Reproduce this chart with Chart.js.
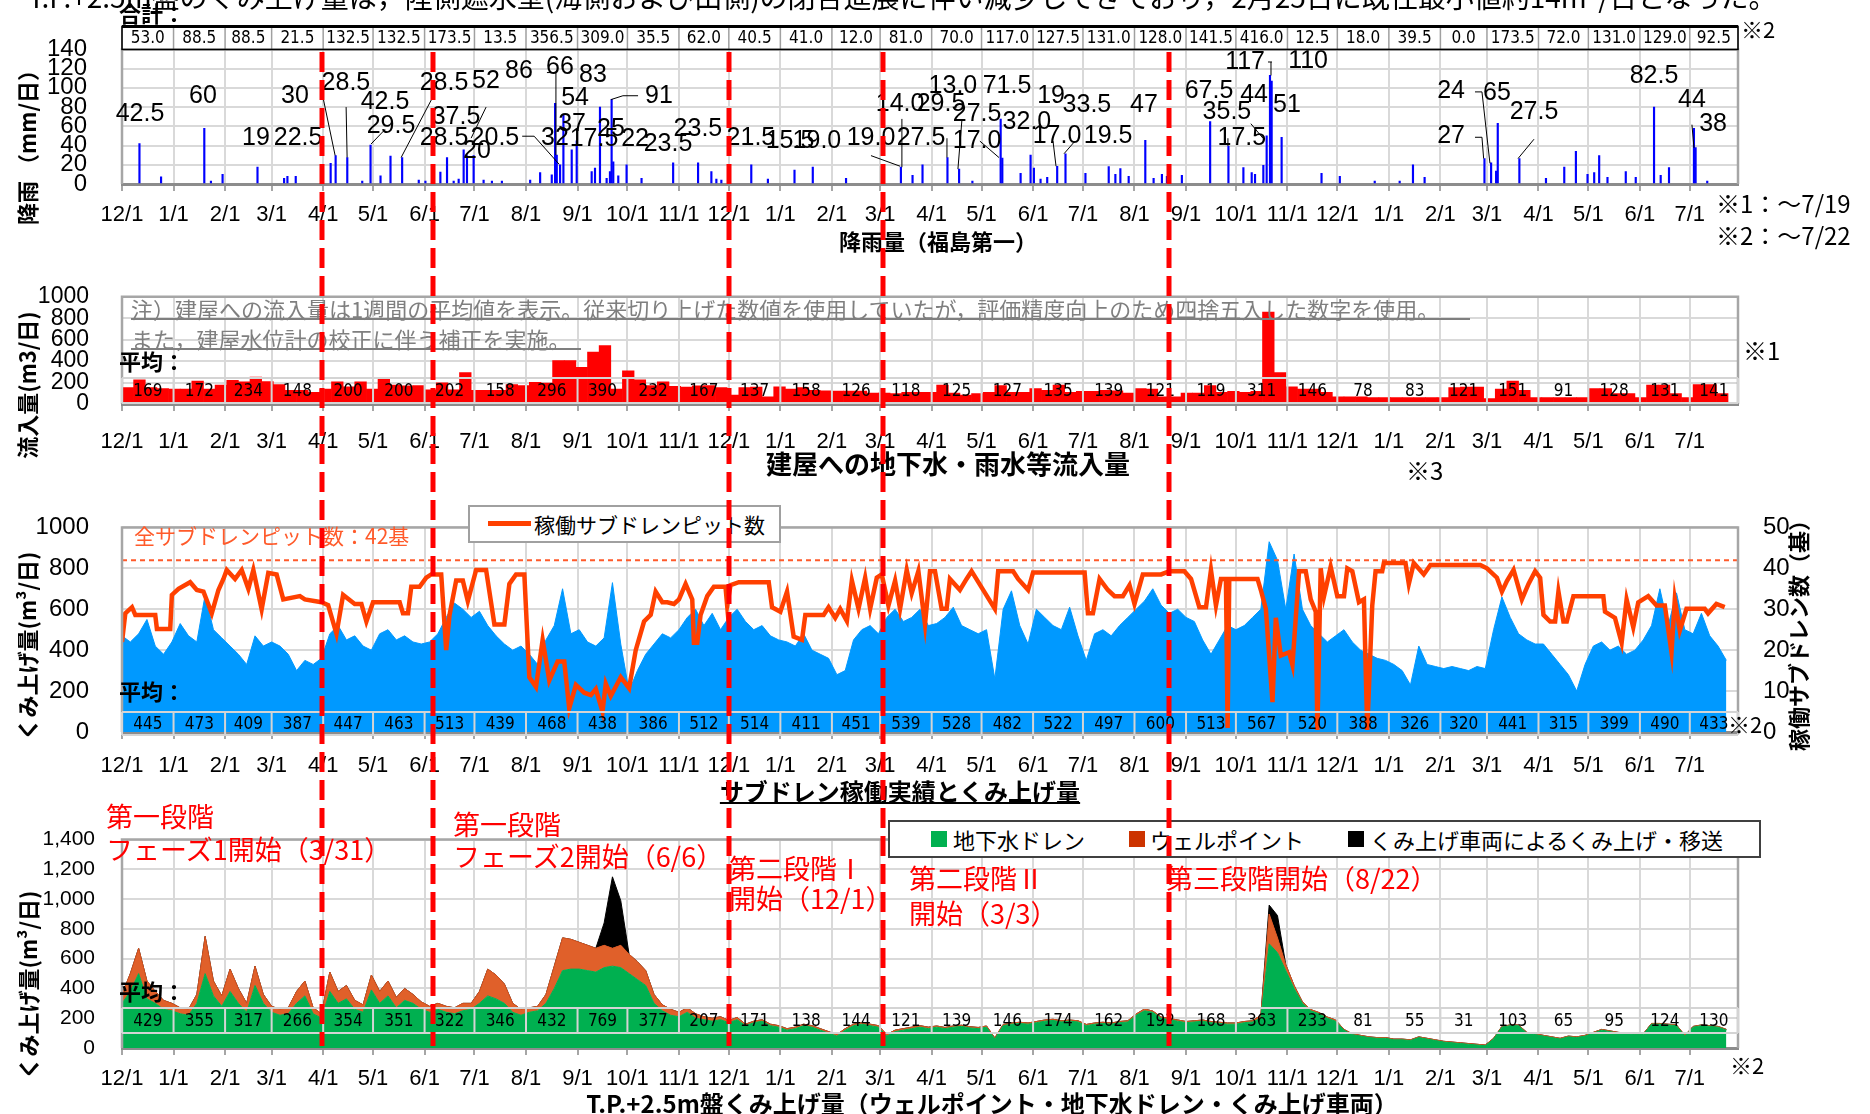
<!DOCTYPE html>
<html lang="ja">
<head>
<meta charset="utf-8">
<title>サブドレン稼働実績とくみ上げ量</title>
<script src="https://cdn.jsdelivr.net/npm/chart.js@4.4.1/dist/chart.umd.min.js"></script>
<style>
  html, body { margin: 0; padding: 0; background: #fff; }
  #page { position: relative; width: 1870px; height: 1114px; overflow: hidden; background: #fff; }
  #page canvas { position: absolute; left: 0; z-index: 1; }
  .t { position: absolute; white-space: nowrap; line-height: 1; font-family: "Noto Sans CJK JP", sans-serif; color: #000; z-index: 3; }
  .l { transform: translateY(-50%); }
  .c { transform: translate(-50%, -50%); }
  .v { transform: translate(-50%, -50%) rotate(-90deg); }
  .b { font-weight: bold; }
  .red { color: #ff0000; font-size: 27px; }
  .box { position: absolute; background: #fff; z-index: 2; }
  .sq { position: absolute; width: 16px; height: 16px; z-index: 3; }
</style>
</head>
<body>
<div id="page">
  <canvas id="rain" width="1870" height="250" style="top:0"></canvas>
  <canvas id="inflow" width="1870" height="230" style="top:250px"></canvas>
  <canvas id="pump" width="1870" height="320" style="top:480px"></canvas>
  <canvas id="tp" width="1870" height="314" style="top:800px"></canvas>

  <div class="t" style="left:0;top:-18px;font-size:28px">・T.P.+2.5m盤のくみ上げ量は，陸側遮水壁(海側および山側)の閉合進展に伴い減少してきており，2月25日に既往最小値約14m³/日となった。</div>
  <div class="t l b" style="left:119px;top:12px;font-size:22px">合計：</div>
  <div class="t l" style="left:1741px;top:28px;font-size:22px">※2</div>
  <div class="t l" style="left:1716px;top:203px;font-size:24px">※1：～7/19</div>
  <div class="t l" style="left:1716px;top:235px;font-size:24px">※2：～7/22</div>
  <div class="t c b" style="left:938px;top:240px;font-size:22px">降雨量（福島第一）</div>
  <div class="t v b" style="left:26px;top:142px;font-size:22px">降雨 （mm/日）</div>

  <div class="t l" style="left:131px;top:308px;font-size:22px;color:#7f7f7f">注）建屋への流入量は1週間の平均値を表示。従来切り上げた数値を使用していたが，評価精度向上のため四捨五入した数字を使用。</div>
  <div class="box" style="left:131px;top:318px;width:1339px;height:2px;background:#7f7f7f;z-index:3"></div>
  <div class="t l" style="left:131px;top:338px;font-size:22px;color:#7f7f7f">また，建屋水位計の校正に伴う補正を実施。</div>
  <div class="box" style="left:131px;top:348px;width:450px;height:2px;background:#7f7f7f;z-index:3"></div>
  <div class="t l b" style="left:119px;top:360px;font-size:22px">平均：</div>
  <div class="t l" style="left:1743px;top:350px;font-size:24px">※1</div>
  <div class="t c b" style="left:948px;top:463px;font-size:26px">建屋への地下水・雨水等流入量</div>
  <div class="t l" style="left:1406px;top:470px;font-size:24px">※3</div>
  <div class="t v b" style="left:26px;top:385px;font-size:22px">流入量(m3/日)</div>

  <div class="box" style="left:468px;top:505px;width:309px;height:34px;border:2px solid #a0a0a0"></div>
  <div class="box" style="left:488px;top:521px;width:43px;height:5px;background:#ff4000;z-index:3"></div>
  <div class="t l" style="left:534px;top:524px;font-size:21px">稼働サブドレンピット数</div>
  <div class="t l" style="left:134px;top:535px;font-size:21px;color:#ff5a2a">全サブドレンピット数：42基</div>
  <div class="t l b" style="left:119px;top:690px;font-size:22px">平均：</div>
  <div class="t l" style="left:1728px;top:723px;font-size:22px">※2</div>
  <div class="t c b" style="left:900px;top:791px;font-size:24px;text-decoration:underline;text-decoration-thickness:2px">サブドレン稼働実績とくみ上げ量</div>
  <div class="t v b" style="left:26px;top:646px;font-size:22px">くみ上げ量(m³/日)</div>
  <div class="t v b" style="left:1797px;top:630px;font-size:22px">稼働サブドレン数（基）</div>

  <div class="box" style="left:888px;top:820px;width:869px;height:34px;border:2px solid #404040"></div>
  <div class="sq" style="left:931px;top:831px;background:#00b050"></div>
  <div class="t l" style="left:953px;top:839px;font-size:22px">地下水ドレン</div>
  <div class="sq" style="left:1129px;top:831px;background:#cc3300"></div>
  <div class="t l" style="left:1150px;top:839px;font-size:22px">ウェルポイント</div>
  <div class="sq" style="left:1348px;top:831px;background:#000"></div>
  <div class="t l" style="left:1370px;top:839px;font-size:22px">くみ上げ車両によるくみ上げ・移送</div>

  <div class="t l red" style="left:106px;top:815px">第一段階</div>
  <div class="t l red" style="left:106px;top:848px">フェーズ1開始（3/31）</div>
  <div class="t l red" style="left:453px;top:823px">第一段階</div>
  <div class="t l red" style="left:453px;top:855px">フェーズ2開始（6/6）</div>
  <div class="t l red" style="left:729px;top:867px">第二段階Ⅰ</div>
  <div class="t l red" style="left:729px;top:897px">開始（12/1）</div>
  <div class="t l red" style="left:909px;top:877px">第二段階Ⅱ</div>
  <div class="t l red" style="left:909px;top:912px">開始（3/3）</div>
  <div class="t l red" style="left:1166px;top:877px">第三段階開始（8/22）</div>
  <div class="t l b" style="left:119px;top:990px;font-size:22px">平均：</div>
  <div class="t l" style="left:1730px;top:1064px;font-size:22px">※2</div>
  <div class="t c b" style="left:992px;top:1103px;font-size:24px">T.P.+2.5m盤くみ上げ量（ウェルポイント・地下水ドレン・くみ上げ車両）</div>
  <div class="t v b" style="left:27px;top:985px;font-size:22px">くみ上げ量(m³/日)</div>

  <canvas id="phase" width="1870" height="1114" style="top:0;z-index:5;pointer-events:none"></canvas>
</div>
<script>
// day index counted from 2014-12-01
const START = new Date(2014, 11, 1);
const DAY_MAX = 972;

// monthly figures written in the tables
const rainMonthTotal = [53.0, 88.5, 88.5, 21.5, 132.5, 132.5, 173.5, 13.5, 356.5, 309.0, 35.5, 62.0,
  40.5, 41.0, 12.0, 81.0, 70.0, 117.0, 127.5, 131.0, 128.0, 141.5, 416.0, 12.5,
  18.0, 39.5, 0.0, 173.5, 72.0, 131.0, 129.0, 92.5];
const inflowMonthAvg = [169, 172, 234, 148, 200, 200, 202, 158, 296, 390, 232, 167,
  137, 158, 126, 118, 125, 127, 135, 139, 121, 119, 311, 146,
  78, 83, 121, 151, 91, 128, 131, 141];
const pumpMonthAvg = [445, 473, 409, 387, 447, 463, 513, 439, 468, 438, 386, 512,
  514, 411, 451, 539, 528, 482, 522, 497, 600, 513, 567, 520,
  388, 326, 320, 441, 315, 399, 490, 433];
const tpMonthAvg = [429, 355, 317, 266, 354, 351, 322, 346, 432, 769, 377, 207,
  171, 138, 144, 121, 139, 146, 174, 162, 192, 168, 363, 233,
  81, 55, 31, 103, 65, 95, 124, 130];

// daily rain (mm/day), only days with rain worth drawing
const rainDays = [10, 23, 49, 53, 60, 81, 97, 99, 104, 125,
  128, 135, 144, 149, 155, 161, 168, 178, 182, 191,
  195, 199, 202, 205, 207, 211, 217, 222, 228, 245,
  251, 258, 260, 261, 263, 265, 270, 273, 282, 284,
  287, 291, 293, 294, 295, 298, 303, 312, 331, 346,
  354, 357, 360, 378, 388, 404, 415, 435, 468, 475,
  481, 496, 503, 511, 528, 529, 540, 546, 548, 552,
  556, 562, 567, 579, 593, 597, 600, 605, 615, 620,
  625, 628, 637, 654, 665, 674, 679, 681, 686, 688,
  690, 691, 697, 721, 732, 753, 768, 776, 783, 819,
  823, 826, 827, 840, 856, 867, 874, 881, 885, 888,
  893, 904, 910, 921, 925, 930, 945, 946, 953];
const rainMm = [42, 7.5, 58, 3, 10, 17.5, 6, 8, 8, 21.5,
  29.5, 27.5, 3, 40.5, 8.5, 29, 27.5, 4, 3, 12.5,
  27.5, 3, 5, 35.5, 29.5, 29.5, 4, 3, 3, 4,
  12, 9.5, 84, 30, 20, 72, 35.5, 45, 13, 16.5,
  80, 6, 13, 88, 23, 8.5, 20, 6, 22, 22,
  13, 5, 4, 20, 5, 14.5, 17.5, 6, 17.5, 9,
  20, 27.5, 15.5, 3, 67.5, 27, 11, 30, 16.5, 5,
  7, 18.5, 31.5, 11, 18, 10, 16, 8, 45.5, 6,
  10, 8, 9, 65, 39.5, 17, 12, 10, 19.5, 50,
  113, 107, 48.5, 11, 8, 3, 3, 20, 7, 26.5,
  22, 13.5, 63, 26.5, 6, 17.5, 34, 10, 12, 29.5,
  7, 13, 7, 80, 9, 17, 58, 38, 3];

// rain call-outs: text, day, height (mm) of the text centre
const rainLabelText = ['42.5', '60', '19', '22.5', '30', '28.5', '42.5', '29.5', '28.5', '52', '37.5', '28.5', '20.5', '20',
  '86', '66', '83', '54', '37', '32', '17.5', '25', '22', '23.5', '91', '23.5', '21.5', '15.5', '19.0', '19.0', '14.0', '27.5',
  '29.5', '13.0', '71.5', '27.5', '19', '33.5', '32.0', '17.0', '17.0', '19.5', '47', '67.5', '44', '35.5', '17.5', '117', '110',
  '51', '24', '65', '27', '27.5', '82.5', '44', '38'];
const rainLabelDay = [10.8, 48.7, 80.6, 105.9, 104, 134.7, 158.2, 161.8, 193.7, 218.9, 200.9, 193.7, 224.3, 213.5,
  238.8, 263.4, 283.3, 272.5, 270.7, 260.4, 283.9, 294.1, 308.6, 328.4, 323, 346.4, 378.3, 401.8, 418, 450.5, 468, 480.6,
  492.6, 499.8, 532.3, 514.3, 558.8, 580.4, 544.3, 514.3, 562.4, 593.1, 614.7, 653.8, 680.9, 664.6, 673.6, 675.5, 713.4,
  700.7, 799.4, 827, 799.4, 849.3, 921.5, 944.3, 957];
const rainLabelVal = [72.7, 91.8, 47.6, 47.6, 91.8, 104.9, 84.8, 59.7, 104.9, 106.9, 69.7, 47.6, 47.6, 34.5,
  116.9, 121.9, 112.9, 89.8, 62.7, 47.6, 46.6, 57.6, 46.6, 41.6, 91.8, 57.6, 47.6, 44.6, 44.6, 47.6, 82.8, 47.6,
  82.8, 101.8, 101.8, 72.7, 91.8, 81.8, 64.7, 44.6, 49.6, 49.6, 81.8, 96.8, 92.8, 74.7, 47.6, 126.9, 127.9,
  81.8, 96.8, 94.8, 49.6, 74.7, 111.9, 86.8, 62.7];
const rainLeaders = [
  [[120.3, 95], [128.2, 29.6]], [[134.8, 80], [135.4, 27.6]], [[149.8, 41.6], [158.2, 56.7]],
  [[187.4, 91.9], [167.9, 27.6]], [[219, 80], [210, 47.7]], [[240.7, 49.7], [247.9, 49.7], [262.9, 20.6]],
  [[255.6, 115.9], [261, 115.9], [261, 30]], [[310.4, 91.8], [301.3, 91.8], [294.1, 87.8]],
  [[450.5, 29.5], [468, 18.5]], [[469.1, 67.7], [469.1, 17.5]], [[496.2, 47.6], [496.2, 27.5]],
  [[505.2, 66.7], [502.8, 15.5]], [[516, 44.6], [527.5, 27.5]], [[560, 44.6], [561.8, 18.5]],
  [[573.2, 44.6], [566.6, 31.5]], [[679, 62.7], [686.3, 47.6]], [[665.2, 47.6], [665.2, 39.6]],
  [[689.3, 126.9], [691.7, 126.9]], [[691.1, 126.9], [691.1, 112.9]],
  [[813.8, 95.8], [818, 95.8], [822.8, 21.5]], [[813.8, 48.6], [818, 48.6], [819, 26.5]],
  [[849.3, 46.6], [839.7, 26.5]], [[944.3, 61.7], [945.5, 37.6]]];

// weekly inflow to buildings (m3/day), week 0 starts 12/1
const inflowWeekly = [153, 226, 153, 145, 140, 140, 214, 140, 177, 221, 207, 251, 209,
  182, 128, 128, 108, 140, 207, 160, 207, 140, 239, 177, 170, 172,
  133, 197, 133, 293, 128, 128, 128, 182, 172, 202, 194, 406, 406,
  342, 485, 546, 140, 310, 226, 172, 207, 165, 157, 170, 172, 153,
  84, 153, 157, 66, 160, 140, 153, 128, 123, 121, 121, 121,
  103, 103, 98, 108, 108, 108, 177, 103, 84, 98, 110, 172, 108, 108,
  145, 128, 177, 108, 118, 118, 128, 123, 103, 145, 140, 66, 66,
  103, 103, 172, 110, 118, 110, 118, 858, 293, 160, 140, 140, 108,
  66, 66, 66, 61, 61, 61, 61, 61, 61, 61, 153, 157, 157, 50,
  140, 214, 128, 61, 61, 61, 61, 61, 145, 145, 98, 98, 61,
  177, 177, 98, 61, 182, 182, 98];

// sub-drain pumping (m3/day), read every 5 days
const SAMPLE = 5;
const pumpFlow = [470, 440, 480, 550, 420, 380, 440, 530, 470, 440, 670, 500, 460,
  420, 380, 330, 470, 420, 440, 420, 380, 300, 350, 330, 360,
  480, 520, 450, 470, 420, 400, 480, 500, 450, 470, 440, 430,
  440, 480, 560, 630, 600, 560, 590, 520, 470, 430, 400, 420,
  380, 330, 450, 520, 700, 480, 500, 440, 420, 460, 730, 430,
  200, 300, 380, 430, 480, 460, 500, 560, 600, 520, 580, 500,
  560, 600, 540, 500, 520, 470, 450, 440, 420, 480, 400, 380, 360,
  280, 300, 450, 500, 520, 480, 560, 600, 540, 560, 600, 520,
  530, 560, 610, 520, 500, 480, 500, 260, 600, 690, 520, 430,
  600, 560, 520, 500, 610, 470, 350, 480, 500, 470, 520, 560,
  600, 640, 700, 620, 580, 600, 560, 540, 450, 380, 450, 520,
  500, 520, 560, 600, 930, 840, 600, 870, 600, 520, 480, 440, 470,
  500, 440, 400, 380, 360, 350, 330, 300, 230, 420, 330, 320,
  310, 320, 310, 300, 320, 310, 500, 660, 560, 480, 450, 430,
  430, 380, 330, 280, 200, 330, 420, 440, 400, 420, 380, 400,
  450, 520, 700, 520, 680, 500, 480, 580, 470, 420, 350];

// operating sub-drain pits (count), day / value
const pitDays = [0, 2, 6, 8, 20, 21, 29, 30, 34, 41,
  45, 49, 54, 58, 61, 63, 68, 72, 76, 79,
  84, 88, 93, 97, 107, 110, 120, 124, 129, 133,
  140, 144, 147, 151, 167, 169, 172, 174, 179, 183,
  186, 192, 195, 197, 201, 205, 208, 213, 219, 224,
  230, 233, 237, 242, 245, 249, 253, 257, 262, 266,
  269, 273, 278, 282, 285, 289, 291, 294, 300, 305,
  309, 314, 318, 321, 325, 328, 332, 335, 339, 343,
  344, 346, 348, 352, 356, 363, 364, 366, 371, 389,
  391, 396, 400, 404, 409, 411, 422, 425, 429, 432,
  436, 439, 443, 447, 450, 454, 457, 461, 465, 468,
  472, 475, 479, 483, 486, 489, 493, 496, 498, 504,
  508, 511, 525, 527, 536, 539, 545, 548, 579, 581,
  584, 588, 593, 597, 602, 606, 609, 614, 625, 630,
  639, 643, 648, 652, 655, 658, 661, 664, 665, 666,
  683, 685, 688, 692, 694, 697, 702, 704, 708, 712,
  715, 718, 719, 721, 723, 727, 731, 735, 737, 740,
  744, 747, 749, 752, 754, 758, 759, 772, 774, 777,
  783, 787, 817, 821, 827, 830, 833, 837, 842, 846,
  850, 853, 855, 859, 862, 864, 867, 869, 873, 891,
  892, 898, 902, 905, 909, 912, 918, 923, 928, 932,
  934, 937, 941, 952, 954, 959, 964];
const pitCounts = [22, 29, 30.5, 28.6, 28.6, 25.2, 25.2, 33.5, 35, 36.6,
  34.7, 34.3, 29, 34.7, 37.4, 39.6, 37.4, 39.6, 35, 39.6,
  30, 38.9, 38.5, 32.4, 33.2, 32.4, 31.7, 31, 24, 33.5,
  31.3, 31.3, 27, 31.7, 31.7, 29, 29, 35.5, 35.5, 37.7,
  38.5, 38.5, 20, 28.6, 37, 37, 32, 39.6, 39.6, 26.3,
  26.3, 36.2, 38.5, 38.5, 13.4, 11, 22.5, 12.6, 17.2, 17.2,
  5.8, 11.5, 9.6, 9, 10.5, 5, 11.8, 8.8, 13.4, 10.7,
  20, 27, 28.6, 34.3, 31.7, 31.7, 31.3, 32.4, 36.2, 32.4,
  21.8, 21.8, 28.6, 33.2, 35.5, 35.5, 30.9, 35.9, 36.6, 36.6,
  30.5, 29.4, 34.3, 23.3, 22.5, 28.6, 28.6, 30.5, 27.9, 30.1,
  27.1, 37, 30.1, 37.7, 30.1, 37.7, 38.5, 30.9, 37, 30.1,
  39.6, 33.9, 39.3, 26.3, 39.3, 39.3, 30.1, 30.1, 37.4, 34.7,
  37.4, 39.3, 30.1, 39.3, 39.3, 37.4, 34.7, 39, 39, 29,
  29, 37.4, 34.7, 33.2, 33.2, 35.9, 31.3, 38.5, 38.5, 39.3,
  39.3, 37.4, 30.5, 30.5, 39.6, 30.9, 37.4, 37.4, 1, 37.4,
  37.4, 34.7, 30.1, 7.3, 27.9, 18.7, 19.5, 16.4, 39.3, 39.3,
  32.4, 29.4, 0.5, 40, 33.2, 40.4, 33.2, 33.2, 40, 39.3,
  31.7, 32.4, 0.5, 30.9, 39.3, 39.3, 41.3, 41.3, 36.2, 41.3,
  38.5, 40.8, 40.8, 40, 37.7, 34.3, 36.9, 39.6, 32.4, 36.2,
  39.3, 37.7, 28.6, 27, 27, 34.3, 27, 27, 33.2, 33.2,
  29.4, 27.9, 21.8, 32.4, 25.6, 31.7, 33.2, 30.9, 30.9, 19.5,
  32.4, 24.8, 30.1, 30.1, 29, 31.3, 30.5];
const totalPits = 42;

// T.P.+2.5m pumping (m3/day), read every 5 days
const drainFlow = [300, 380, 500, 330, 300, 260, 250, 230, 220, 300, 500, 350, 280,
  380, 300, 240, 420, 300, 240, 220, 230, 300, 350, 230, 200,
  380, 300, 330, 260, 240, 390, 300, 350, 270, 320, 300, 260,
  240, 260, 240, 230, 250, 260, 300, 350, 330, 300, 240, 220,
  240, 250, 300, 400, 520, 530, 530, 520, 510, 540, 550, 540,
  500, 460, 420, 300, 250, 220, 210, 240, 200, 190, 180, 190,
  170, 190, 150, 170, 180, 150, 140, 120, 130, 150, 140, 120, 100,
  80, 120, 150, 160, 150, 140, 80, 110, 120, 130, 140, 130,
  140, 130, 140, 145, 135, 130, 140, 60, 150, 160, 165, 160,
  170, 180, 185, 175, 180, 175, 150, 160, 165, 160, 170, 175,
  220, 250, 240, 200, 190, 180, 170, 175, 180, 170, 165, 160,
  160, 170, 175, 200, 700, 640, 520, 400, 300, 250, 230, 200, 180,
  120, 90, 80, 70, 65, 65, 55, 55, 50, 70, 60, 50,
  40, 35, 30, 25, 20, 15, 60, 140, 150, 150, 100, 90,
  80, 70, 60, 75, 70, 80, 100, 120, 110, 100, 95, 90,
  90, 160, 160, 155, 150, 80, 140, 150, 145, 140, 120];
const wellFlow = [60, 120, 170, 120, 80, 60, 50, 40, 40, 60, 250, 100, 70,
  150, 100, 60, 130, 60, 40, 40, 40, 80, 100, 40, 30,
  130, 80, 90, 60, 50, 100, 80, 100, 70, 80, 60, 50,
  40, 40, 40, 40, 50, 40, 80, 180, 160, 130, 60, 40,
  30, 30, 60, 150, 220, 200, 180, 170, 160, 150, 120, 150,
  130, 120, 100, 60, 40, 40, 30, 30, 30, 20, 20, 20,
  15, 15, 10, 10, 10, 10, 10, 10, 10, 10, 10, 10, 10,
  10, 10, 10, 10, 10, 10, 10, 10, 10, 10, 10, 10,
  8, 8, 8, 8, 8, 8, 8, 8, 8, 8, 8, 8,
  8, 8, 8, 8, 8, 8, 8, 8, 8, 8, 8, 8,
  8, 12, 8, 8, 8, 8, 8, 8, 8, 8, 8, 8,
  8, 8, 8, 20, 200, 100, 40, 20, 10, 8, 8, 8, 8,
  5, 5, 5, 5, 5, 5, 5, 5, 5, 5, 5, 5,
  5, 5, 5, 5, 5, 5, 5, 5, 5, 5, 5, 5,
  5, 5, 5, 5, 5, 5, 5, 5, 5, 5, 5, 5,
  5, 5, 5, 5, 5, 5, 5, 5, 5, 5, 5];
// pumping by vehicle, only on these days
const truckDays = [290, 295, 300, 690, 695];
const truckFlow = [150, 480, 300, 60, 150];

// month ticks and phase dates
const monthDays = [], monthLabels = [];
for (let i = 0; i < 32; i++) {
  const dt = new Date(2014, 11 + i, 1);
  monthDays.push(Math.round((dt - START) / 86400000));
  monthLabels.push((dt.getMonth() + 1) + '/1');
}
function dayOf(y, m, d) { return Math.round((new Date(y, m - 1, d) - START) / 86400000); }
const phaseDays = [dayOf(2015, 3, 31), dayOf(2015, 6, 6), dayOf(2015, 12, 1), dayOf(2016, 3, 3), dayOf(2016, 8, 22)];

const latin = "'Liberation Sans', 'DejaVu Sans', sans-serif";
const narrow = "'Liberation Sans Narrow', 'DejaVu Sans Condensed', sans-serif";
Chart.defaults.font.family = latin;
Chart.defaults.color = '#000';

function xAxis(h, pad) {
  return {
    type: 'linear', min: 0, max: DAY_MAX, offset: false,
    afterBuildTicks: s => { s.ticks = monthDays.map(v => ({ value: v })); },
    afterFit: s => { s.height = h; },
    ticks: { autoSkip: false, maxRotation: 0, minRotation: 0, padding: pad, color: '#000',
      font: { family: latin, size: 22 }, callback: (v, i) => monthLabels[i] },
    grid: { color: '#d9d9d9', lineWidth: 2, offset: false, tickLength: 7, tickColor: '#a6a6a6', tickWidth: 2 },
    border: { color: '#8c8c8c', width: 3 }
  };
}
function yAxis(pos, w, max, step, size, pad, fmt) {
  return {
    position: pos, min: 0, max: max,
    afterFit: s => { s.width = w; },
    ticks: { stepSize: step, autoSkip: false, padding: pad, color: '#000', font: { family: latin, size: size },
      callback: fmt || (v => v) },
    grid: { color: '#d9d9d9', lineWidth: 2, drawTicks: false },
    border: { display: false }
  };
}

// one row of figures between month ticks
function drawRow(c, vals, top, bottom, opt) {
  const ctx = c.ctx, xs = c.scales.x, a = c.chartArea;
  const edges = monthDays.map(d => xs.getPixelForValue(d)).concat([a.right]);
  ctx.save();
  if (opt.fill) { ctx.fillStyle = opt.fill; ctx.fillRect(a.left, top, a.right - a.left, bottom - top); }
  ctx.strokeStyle = opt.line; ctx.lineWidth = opt.lw;
  ctx.beginPath();
  ctx.moveTo(a.left, top); ctx.lineTo(a.right, top);
  ctx.moveTo(a.left, bottom); ctx.lineTo(a.right, bottom);
  edges.forEach(x => { ctx.moveTo(x, top); ctx.lineTo(x, bottom); });
  ctx.stroke();
  ctx.fillStyle = '#000'; ctx.font = opt.font; ctx.textAlign = 'center'; ctx.textBaseline = 'middle';
  vals.forEach((v, i) => ctx.fillText(opt.fmt ? opt.fmt(v) : String(v), (edges[i] + edges[i + 1]) / 2, (top + bottom) / 2 + 1));
  ctx.restore();
}

const frame = {
  id: 'frame',
  afterDatasetsDraw(c) {
    const a = c.chartArea, ctx = c.ctx;
    ctx.save();
    ctx.strokeStyle = '#a6a6a6'; ctx.lineWidth = 2.5;
    ctx.beginPath();
    ctx.moveTo(a.left, a.bottom); ctx.lineTo(a.left, a.top); ctx.lineTo(a.right, a.top); ctx.lineTo(a.right, a.bottom);
    ctx.stroke();
    ctx.restore();
  }
};
function avgRow(id, vals, dTop, dBot) {
  return {
    id: id,
    afterDatasetsDraw(c) {
      const a = c.chartArea;
      drawRow(c, vals, a.bottom + dTop, a.bottom + dBot, { line: '#d4d4d4', lw: 2, font: '17px ' + narrow });
    }
  };
}
const rainTable = {
  id: 'rainTable',
  afterDraw(c) {
    const a = c.chartArea, ctx = c.ctx;
    drawRow(c, rainMonthTotal, a.top - 23, a.top, { fill: '#fff', line: '#a0a0a0', lw: 1.5, font: '17px ' + narrow, fmt: v => v.toFixed(1) });
    ctx.save();
    ctx.strokeStyle = '#000'; ctx.lineWidth = 1.5;
    ctx.strokeRect(a.left, a.top - 23, a.right - a.left, 23);
    ctx.lineWidth = 3;
    ctx.beginPath(); ctx.moveTo(a.left, a.top - 23); ctx.lineTo(a.right, a.top - 23); ctx.stroke();
    ctx.restore();
  }
};
const rainNotes = {
  id: 'rainNotes',
  afterDatasetsDraw(c) {
    const ctx = c.ctx, xs = c.scales.x, ys = c.scales.y;
    ctx.save();
    ctx.strokeStyle = '#000'; ctx.lineWidth = 1;
    rainLeaders.forEach(pts => {
      ctx.beginPath();
      pts.forEach((p, i) => {
        const px = xs.getPixelForValue(p[0]), py = ys.getPixelForValue(p[1]);
        if (i) ctx.lineTo(px, py); else ctx.moveTo(px, py);
      });
      ctx.stroke();
    });
    ctx.fillStyle = '#000'; ctx.font = '25px ' + latin; ctx.textAlign = 'center'; ctx.textBaseline = 'middle';
    rainLabelText.forEach((s, i) => ctx.fillText(s, xs.getPixelForValue(rainLabelDay[i]), ys.getPixelForValue(rainLabelVal[i])));
    ctx.restore();
  }
};

const base = { responsive: false, animation: false, devicePixelRatio: 1,
  plugins: { legend: { display: false }, tooltip: { enabled: false } } };

// 1. rain
const rainChart = new Chart(document.getElementById('rain'), {
  type: 'bar',
  data: { datasets: [{ data: rainDays.map((d, i) => ({ x: d + 0.5, y: rainMm[i] })),
    backgroundColor: '#0000ff', barThickness: 1.5 }] },
  options: Object.assign({}, base, {
    layout: { padding: { top: 45, right: 132, bottom: 0, left: 0 } },
    scales: { x: xAxis(66, 11), y: yAxis('left', 122, 140, 20, 24, 35) }
  }),
  plugins: [frame, rainNotes, rainTable]
});

// 2. inflow
new Chart(document.getElementById('inflow'), {
  type: 'bar',
  data: { datasets: [{ data: inflowWeekly.map((v, i) => ({ x: i * 7 + 3.5, y: v })),
    backgroundColor: '#ff0000', barPercentage: 1, categoryPercentage: 1 }] },
  options: Object.assign({}, base, {
    layout: { padding: { top: 19, right: 132, bottom: 0, left: 0 } },
    scales: { x: xAxis(76, 18), y: yAxis('left', 122, 1000, 200, 23, 33) }
  }),
  plugins: [frame, avgRow('inflowAvg', inflowMonthAvg, -26, -1)]
});

// 3. sub-drain
new Chart(document.getElementById('pump'), {
  type: 'line',
  data: { datasets: [
    { data: pitDays.map((d, i) => ({ x: d, y: pitCounts[i] })), yAxisID: 'y2', order: 0,
      borderColor: '#ff4000', borderWidth: 4.5, pointRadius: 0, tension: 0, fill: false },
    { data: [{ x: 0, y: totalPits }, { x: DAY_MAX, y: totalPits }], yAxisID: 'y2', order: 1,
      borderColor: '#ff5a2a', borderWidth: 2, borderDash: [5, 4], pointRadius: 0, fill: false },
    { data: pumpFlow.map((v, i) => ({ x: i * SAMPLE, y: v })), yAxisID: 'y', order: 2,
      borderColor: '#0099ff', backgroundColor: '#0099ff', borderWidth: 1, pointRadius: 0, tension: 0, fill: 'origin' }
  ] },
  options: Object.assign({}, base, {
    layout: { padding: { top: 33, right: 0, bottom: 0, left: 0 } },
    scales: {
      x: xAxis(68, 14),
      y: yAxis('left', 122, 1000, 200, 24, 33),
      y2: Object.assign(yAxis('right', 132, 50, 10, 24, 25), { grid: { drawOnChartArea: false, drawTicks: false } })
    }
  }),
  plugins: [frame, avgRow('pumpAvg', pumpMonthAvg, -20, 3)]
});

// 4. T.P.+2.5m
const truckGrid = drainFlow.map((v, i) => {
  const k = truckDays.indexOf(i * SAMPLE);
  return k < 0 ? 0 : truckFlow[k];
});
new Chart(document.getElementById('tp'), {
  type: 'line',
  data: { datasets: [
    { data: drainFlow.map((v, i) => ({ x: i * SAMPLE, y: v })), borderColor: '#00b050', backgroundColor: '#00b050',
      borderWidth: 1, pointRadius: 0, tension: 0, fill: 'origin' },
    { data: wellFlow.map((v, i) => ({ x: i * SAMPLE, y: v })), borderColor: '#d9531e', backgroundColor: '#e0602a',
      borderWidth: 1, pointRadius: 0, tension: 0, fill: '-1' },
    { data: truckGrid.map((v, i) => ({ x: i * SAMPLE, y: v })), borderColor: '#000', backgroundColor: '#000',
      borderWidth: 1, pointRadius: 0, tension: 0, fill: '-1' }
  ] },
  options: Object.assign({}, base, {
    layout: { padding: { top: 32, right: 132, bottom: 0, left: 0 } },
    scales: {
      x: xAxis(66, 11),
      y: Object.assign(yAxis('left', 122, 1400, 200, 21, 27, v => v.toLocaleString('en-US')), { stacked: true })
    }
  }),
  plugins: [frame, avgRow('tpAvg', tpMonthAvg, -40, -15)]
});

// red dashed phase lines across all panels
const ov = document.getElementById('phase').getContext('2d');
ov.strokeStyle = '#ff0000'; ov.lineWidth = 5; ov.setLineDash([20, 8]);
phaseDays.forEach(d => {
  const x = Math.round(rainChart.scales.x.getPixelForValue(d));
  ov.beginPath(); ov.moveTo(x, 52); ov.lineTo(x, 1046); ov.stroke();
});
</script>
</body>
</html>
